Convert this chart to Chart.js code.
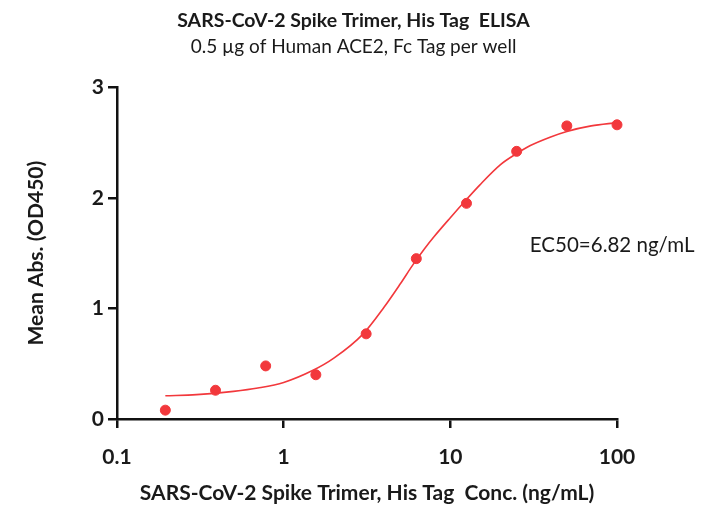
<!DOCTYPE html>
<html>
<head>
<meta charset="utf-8">
<script src="https://cdn.jsdelivr.net/npm/chart.js@4.4.0/dist/chart.umd.min.js"></script>
<style>
html,body{margin:0;padding:0;background:#fff;}
#wrap{width:707px;height:508px;}
</style>
</head>
<body>
<div id="wrap"><canvas id="c" width="707" height="508"></canvas></div>
<script>
// Measured points
const concentrations = [0.195, 0.39, 0.78, 1.56, 3.125, 6.25, 12.5, 25, 50, 100];
const meanAbs = [0.08, 0.26, 0.48, 0.40, 0.77, 1.45, 1.95, 2.42, 2.65, 2.66];
// Fitted curve
const curveX = [0.195, 0.3, 0.5, 0.7, 1, 1.5, 2, 3, 4, 5, 6, 7, 8, 10, 12, 15, 20, 25, 30, 40, 50, 70, 100];
const curveY = [0.21, 0.22, 0.25, 0.28, 0.33, 0.44, 0.55, 0.77, 1.01, 1.22, 1.40, 1.54, 1.65, 1.82, 1.955, 2.115, 2.30, 2.40, 2.47, 2.55, 2.60, 2.65, 2.68];
// Tick labels
const xTicks = [0.1, 1, 10, 100];
const yTicks = [0, 1, 2, 3];
const titleText = 'SARS-CoV-2 Spike Trimer, His Tag  ELISA';
const subtitleText = '0.5 \u00b5g of Human ACE2, Fc Tag per well';
const xTitle = 'SARS-CoV-2 Spike Trimer, His Tag  Conc. (ng/mL)';
const yTitle = 'Mean Abs. (OD450)';
const ec50Label = 'EC50=6.82 ng/mL';
const ec50LabelPos = {x: 30, y: 1.57};

const FONT = 'Lato, "Open Sans", sans-serif';
const RED = '#f2383c';
const TXT = '#1a1a1a';

const textPlugin = {
  id: 'ec50text',
  afterDatasetsDraw(chart) {
    const {ctx, scales} = chart;
    ctx.save();
    ctx.font = '20.5px ' + FONT;
    ctx.fillStyle = TXT;
    ctx.textAlign = 'left';
    ctx.textBaseline = 'middle';
    ctx.fillText(ec50Label, scales.x.getPixelForValue(ec50LabelPos.x), scales.y.getPixelForValue(ec50LabelPos.y));
    ctx.restore();
  }
};

new Chart(document.getElementById('c'), {
  type: 'scatter',
  data: {
    datasets: [
      {
        type: 'line',
        data: curveX.map((x, i) => ({x, y: curveY[i]})),
        borderColor: RED,
        borderWidth: 1.6,
        pointRadius: 0,
        fill: false,
        cubicInterpolationMode: 'monotone',
        clip: false
      },
      {
        data: concentrations.map((x, i) => ({x, y: meanAbs[i]})),
        backgroundColor: RED,
        borderColor: RED,
        pointRadius: 5,
        pointHoverRadius: 5,
        clip: false
      }
    ]
  },
  options: {
    responsive: false,
    animation: false,
    events: [],
    layout: {padding: {left: 0, right: 0, top: 0, bottom: 0}},
    plugins: {
      legend: {display: false},
      tooltip: {enabled: false},
      title: {
        display: true, text: titleText, color: TXT,
        font: {family: FONT, size: 19.5, weight: 'bold'},
        padding: {top: 9, bottom: 3}
      },
      subtitle: {
        display: true, text: subtitleText, color: TXT,
        font: {family: FONT, size: 19},
        padding: {top: 0, bottom: 29}
      }
    },
    scales: {
      x: {
        type: 'logarithmic',
        min: 0.1, max: 100,
        afterBuildTicks(s) { s.ticks = xTicks.map(v => ({value: v})); },
        afterFit(s) { s.height = 89; },
        ticks: {
          color: TXT, padding: 17, maxRotation: 0,
          font: {family: FONT, size: 21, weight: 'bold'},
          callback: (v) => String(v)
        },
        grid: {display: true, drawOnChartArea: false, drawTicks: true, tickLength: 9, color: '#111', lineWidth: 2.5},
        border: {display: true, color: '#111', width: 2.5},
        title: {display: true, text: xTitle, color: TXT, font: {family: FONT, size: 21, weight: 'bold'}, padding: {top: 4, bottom: 2}}
      },
      y: {
        min: 0, max: 3,
        afterBuildTicks(s) { s.ticks = yTicks.map(v => ({value: v})); },
        afterFit(s) { s.width = 117; },
        ticks: {
          color: TXT, padding: 4,
          font: {family: FONT, size: 21, weight: 'bold'},
          callback: (v) => String(v)
        },
        grid: {display: true, drawOnChartArea: false, drawTicks: true, tickLength: 9, color: '#111', lineWidth: 2.5},
        border: {display: true, color: '#111', width: 2.5},
        title: {display: true, text: yTitle, color: TXT, font: {family: FONT, size: 21, weight: 'bold'}, padding: {top: 24, bottom: 4}}
      },
      yRightSpace: {
        position: 'right',
        min: 0, max: 3,
        afterFit(s) { s.width = 90; },
        ticks: {display: false},
        grid: {display: false},
        border: {display: false}
      }
    }
  },
  plugins: [textPlugin]
});
</script>
</body>
</html>
